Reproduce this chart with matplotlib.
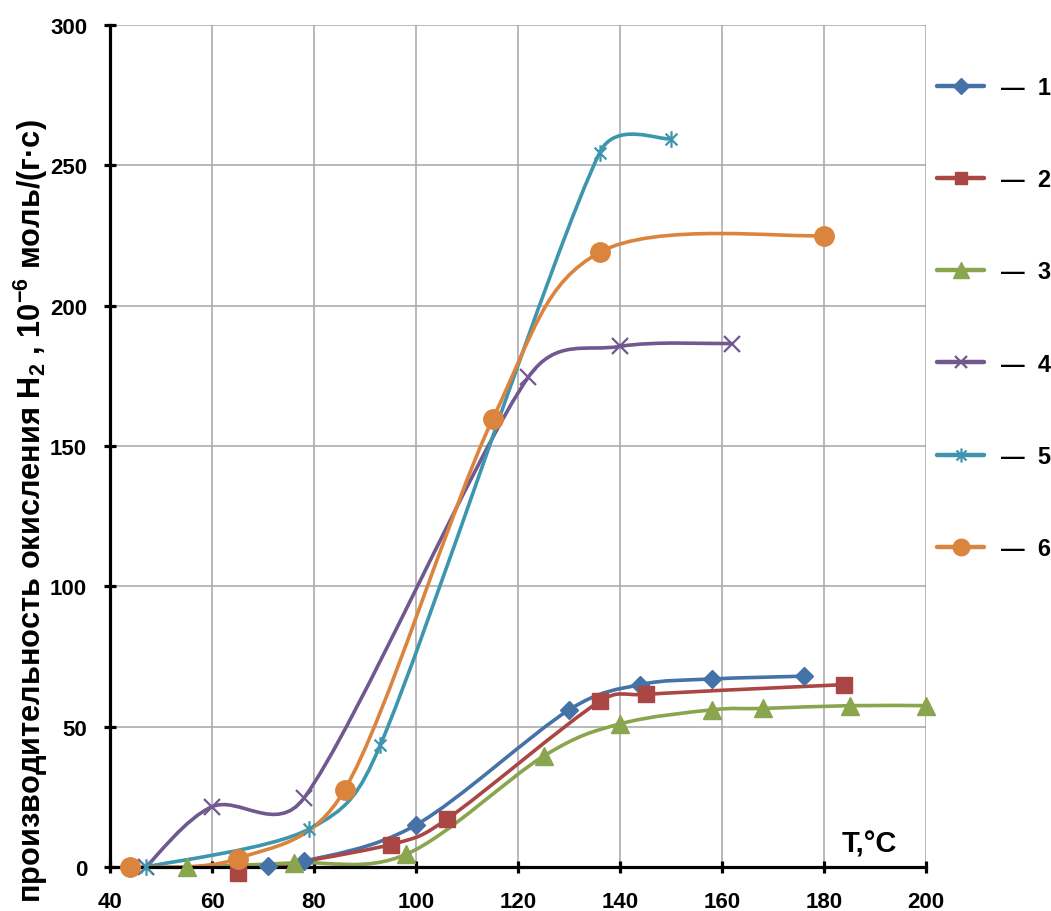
import numpy as np
import matplotlib
matplotlib.use("Agg")
import matplotlib.pyplot as plt
from matplotlib import font_manager
from matplotlib.path import Path
from matplotlib.patches import PathPatch
from matplotlib.lines import Line2D

# узкий жирный шрифт для подписи оси, если есть
try:
    font_manager.findfont("Liberation Sans Narrow", fallback_to_default=False)
    NARROW = "Liberation Sans Narrow"
except ValueError:
    NARROW = "Liberation Sans"

plt.rcParams['font.family'] = ['Liberation Sans', 'DejaVu Sans']
plt.rcParams['font.weight'] = 'bold'
plt.rcParams['mathtext.fontset'] = 'custom'
plt.rcParams['mathtext.rm'] = NARROW + ':bold'
plt.rcParams['mathtext.bf'] = NARROW + ':bold'

# --- данные ---
T1 = [71, 78, 100, 130, 144, 158, 176]
P1 = [0.5, 2, 15, 56, 65, 67, 68]
T2 = [65, 95, 106, 136, 145, 184]
P2 = [-2, 8, 17, 59, 61.5, 65]
T3 = [55, 76, 98, 125, 140, 158, 168, 185, 200]
P3 = [0, 1.5, 4.5, 39.5, 51, 56, 56.5, 57.5, 57.5]
T4 = [47, 60, 78, 122, 140, 162]
P4 = [0, 21.5, 24.5, 174.5, 185.5, 186.5]
T5 = [47, 79, 93, 136, 150]
P5 = [0, 13.5, 43.5, 254.5, 259.5]
T6 = [44, 65, 86, 115, 136, 180]
P6 = [0, 3, 27.5, 159.5, 219, 225]

labels = ["—  1", "—  2", "—  3", "—  4", "—  5", "—  6"]
xticks = [40, 60, 80, 100, 120, 140, 160, 180, 200]
yticks = [0, 50, 100, 150, 200, 250, 300]

# маркер "звёздочка" как в Excel: крест + вертикальная черта
c45 = np.sqrt(0.5)
ASTER = Path([(-c45, -c45), (c45, c45), (-c45, c45), (c45, -c45), (0, -1), (0, 1)],
             [Path.MOVETO, Path.LINETO] * 3)

styles = [
    dict(color="#4572A7", marker="D", ms=9.5),
    dict(color="#AA4643", marker="s", ms=11),
    dict(color="#89A54E", marker="^", ms=13),
    dict(color="#71588F", marker="x", ms=11, mew=1.6),
    dict(color="#3D96AE", marker=ASTER, ms=12, mew=1.6),
    dict(color="#DB843D", marker="o", ms=14),
]
series = [(T1, P1), (T2, P2), (T3, P3), (T4, P4), (T5, P5), (T6, P6)]


def smooth_path(ax, x, y):
    # сглаженная линия в духе Excel: Безье по Catmull-Rom в экранных координатах,
    # плечо контрольной точки не длиннее половины сегмента
    tr = ax.transData
    pts = tr.transform(np.column_stack([x, y]).astype(float))
    n = len(pts)
    verts, codes = [pts[0]], [Path.MOVETO]
    for i in range(n - 1):
        p0 = pts[i - 1] if i > 0 else pts[i]
        p1, p2 = pts[i], pts[i + 1]
        p3 = pts[i + 2] if i + 2 < n else pts[i + 1]
        half = np.hypot(*(p2 - p1)) / 2
        t1 = (p2 - p0) / 6
        t2 = (p3 - p1) / 6
        for t in (t1, t2):
            L = np.hypot(*t)
            if L > half:
                t *= half / L
        verts += [p1 + t1, p2 - t2, p2]
        codes += [Path.CURVE4] * 3
    return Path(tr.inverted().transform(np.array(verts)), codes)


fig = plt.figure(figsize=(10.51, 9.12), dpi=100)
ax = fig.add_axes([0.1047, 0.0482, 0.7764, 0.9233])
ax.set_xlim(40, 200)
ax.set_ylim(0, 300)

handles = []
for (x, y), st in zip(series, styles):
    ax.add_patch(PathPatch(smooth_path(ax, x, y), facecolor="none", edgecolor=st["color"],
                           lw=2.6, capstyle="round", joinstyle="round", zorder=2))
    ax.plot(x, y, ls="none", marker=st["marker"], ms=st["ms"], mew=st.get("mew", 1),
            color=st["color"], mec=st["color"], zorder=3, clip_on=False)
    handles.append(Line2D([], [], color=st["color"], lw=3.2, marker=st["marker"],
                          ms=st["ms"] * 0.85, mew=st.get("mew", 1), mec=st["color"],
                          solid_capstyle="round"))

ax.set_xticks(xticks)
ax.set_yticks(yticks)
ax.grid(color="#a6a6a6", lw=1.1)
ax.set_axisbelow(True)
for s in ("top", "right"):
    ax.spines[s].set_visible(False)
for s in ("left", "bottom"):
    ax.spines[s].set_linewidth(2.3)
ax.tick_params(axis="both", direction="inout", length=9, width=2.3, labelsize=16)
ax.tick_params(axis="y", pad=12)
ax.tick_params(axis="x", pad=13)

ax.text(0.931, 0.018, "T,°C", transform=ax.transAxes, ha="center", va="baseline",
        fontsize=21, fontweight="bold")

ylab = fig.text(0.029, 0.439,
                r"производительность окисления H$_\mathbf{2}$ , 10$^\mathbf{-6}$ моль/(г·с)",
                rotation=90, ha="center", va="center", fontsize=20, fontweight="bold",
                family=[NARROW, "DejaVu Sans"])
# подогнать длину подписи под ~785 px, как в оригинале
fig.canvas.draw()
h = ylab.get_window_extent().height
ylab.set_fontsize(20 * 785 / h)

fig.legend(handles, labels, loc="upper left", bbox_to_anchor=(0.8915, 0.9155),
           frameon=False, borderpad=0, borderaxespad=0, handlelength=2.0,
           handletextpad=0.7, labelspacing=2.93,
           prop=dict(size=17, weight="bold"))

fig.savefig("out.png", dpi=100)
